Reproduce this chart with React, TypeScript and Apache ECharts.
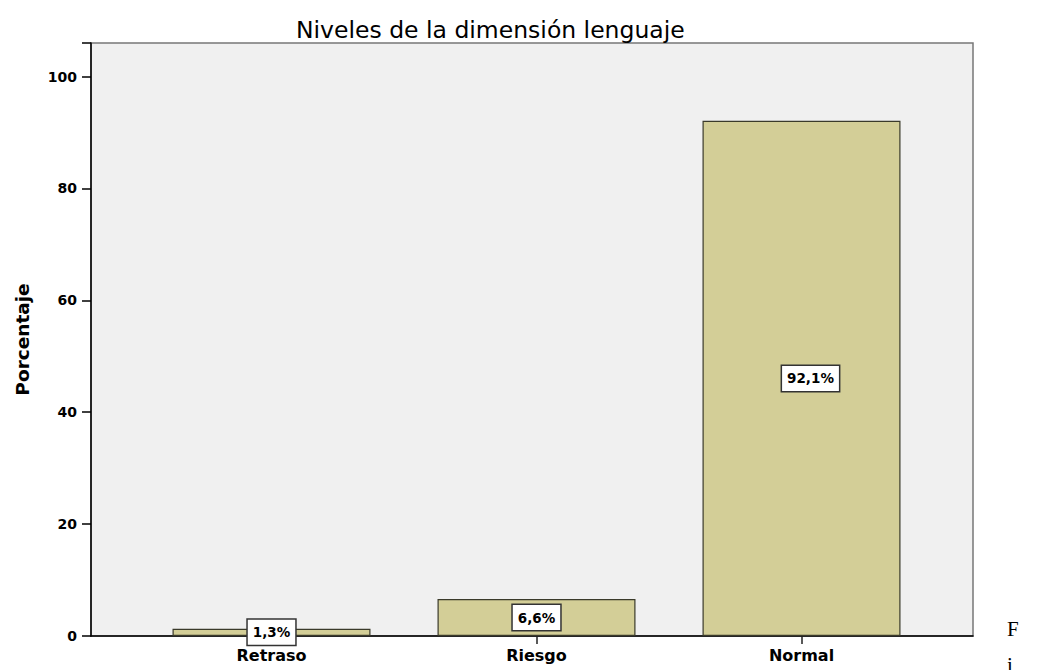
import React, { useEffect, useRef } from "react";
import * as echarts from "echarts";

const categories = ["Retraso", "Riesgo", "Normal"];
const percentages = [1.3, 6.6, 92.1];
const yTicks = [0, 20, 40, 60, 80, 100];
const titleText = "Niveles de la dimensión lenguaje";
const yAxisName = "Porcentaje";

export default function App() {
  const ref = useRef<HTMLDivElement>(null);
  useEffect(() => {
    if (!ref.current) return;
    const chart = echarts.init(ref.current, null, { renderer: "svg" });
    const top = 43;
    const bottom = 34;
    const sans = "'DejaVu Sans', sans-serif";
    const barData = percentages.map((v, i) =>
      i === percentages.length - 1 ? { value: v, label: { offset: [9, 0] } } : { value: v }
    );
    chart.setOption({
      animation: false,
      backgroundColor: "#ffffff",
      title: {
        text: titleText,
        left: 291,
        top: 13,
        textStyle: { fontFamily: sans, fontSize: 23.5, fontWeight: "normal", color: "#000" },
      },
      grid: [
        { left: 91, right: 67, top, bottom, show: true, backgroundColor: "#f0f0f0", borderColor: "#777", borderWidth: 1.5 },
        { left: 139, right: 106, top, bottom },
      ],
      xAxis: [
        {
          gridIndex: 0, type: "value", min: 0, max: 1,
          axisLine: { show: true, onZero: false, lineStyle: { color: "#000", width: 1.5 } },
          axisTick: { show: false }, axisLabel: { show: false }, splitLine: { show: false },
        },
        {
          gridIndex: 1, type: "category", data: categories,
          axisLine: { show: false },
          axisTick: { show: true, alignWithLabel: true, length: 8, lineStyle: { color: "#222", width: 1.5 } },
          axisLabel: { fontFamily: sans, fontWeight: "bold", fontSize: 16, color: "#000", margin: 11 },
        },
      ],
      yAxis: [
        {
          gridIndex: 0, type: "value", min: 0, max: 106, interval: 20,
          name: yAxisName, nameLocation: "middle", nameGap: 59,
          nameTextStyle: { fontFamily: sans, fontWeight: "bold", fontSize: 18.5, color: "#000" },
          axisLine: { show: true, lineStyle: { color: "#000", width: 1.5 } },
          axisTick: { show: true, length: 9, lineStyle: { color: "#000", width: 1.5 } },
          axisLabel: {
            fontFamily: sans, fontWeight: "bold", fontSize: 14, color: "#000", margin: 14,
            formatter: (v: number) => (yTicks.includes(v) ? String(v) : ""),
          },
          splitLine: { show: false },
        },
        { gridIndex: 1, type: "value", min: 0, max: 106, show: false, splitLine: { show: false } },
      ],
      series: [
        {
          type: "bar",
          xAxisIndex: 1,
          yAxisIndex: 1,
          data: barData,
          barWidth: 198,
          itemStyle: { color: "#d3ce97", borderColor: "#3a3a2a", borderWidth: 1.2 },
          label: {
            show: true,
            position: "inside",
            formatter: (p: any) => String(p.value).replace(".", ",") + "%",
            fontFamily: sans, fontWeight: "bold", fontSize: 13.5, color: "#000",
            backgroundColor: "#ffffff", borderColor: "#333", borderWidth: 1.5,
            padding: [6, 5, 5, 5],
          },
        },
      ],
      graphic: [
        { type: "text", left: 1007, top: 618, style: { text: "F", font: "21px 'Liberation Serif', serif", fill: "#000" } },
        { type: "text", left: 1007, top: 654, style: { text: "i", font: "21px 'Liberation Serif', serif", fill: "#000" } },
      ],
    });
    return () => chart.dispose();
  }, []);
  return <div ref={ref} style={{ position: "fixed", left: 0, top: 0, width: 1040, height: 670 }} />;
}
